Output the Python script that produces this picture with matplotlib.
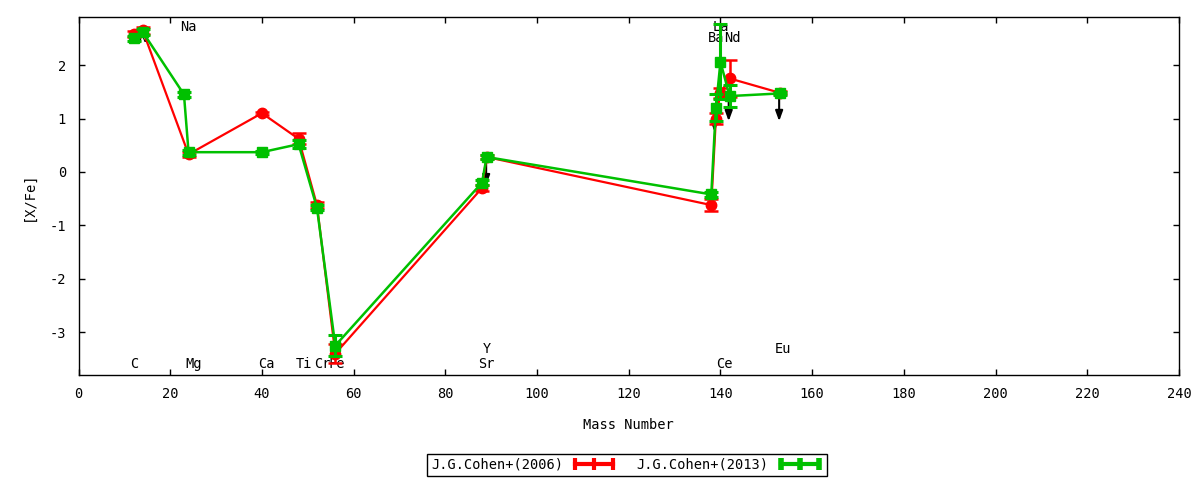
import matplotlib
matplotlib.use("Agg")
import matplotlib.pyplot as plt
from matplotlib.lines import Line2D

# ---- data ----
mass_2006 = [12, 14, 24, 40, 48, 52, 56, 88, 89, 138, 139, 140, 142, 153]
xfe_2006 = [2.58, 2.65, 0.33, 1.10, 0.62, -0.62, -3.40, -0.30, 0.28, -0.62, 1.00, 1.48, 1.75, 1.48]
err_2006 = [0.05, 0.07, 0.05, 0.03, 0.10, 0.05, 0.18, 0.05, 0.03, 0.12, 0.10, 0.10, 0.35, 0.03]

mass_2013 = [12, 14, 23, 24, 40, 48, 52, 56, 88, 89, 138, 139, 140, 142, 153]
xfe_2013 = [2.50, 2.62, 1.45, 0.37, 0.37, 0.52, -0.67, -3.25, -0.20, 0.28, -0.42, 1.20, 2.06, 1.42, 1.47]
err_2013 = [0.05, 0.05, 0.05, 0.05, 0.03, 0.08, 0.05, 0.20, 0.05, 0.03, 0.05, 0.25, 0.70, 0.20, 0.03]

# upper limits (arrows)
limit_mass = [88.9, 138.7, 141.8, 152.8]
limit_start = [0.28, 1.20, 1.42, 1.47]
limit_end = [-0.25, 0.75, 0.95, 0.95]

# element labels
label_names = ['C', 'N', 'Na', 'Mg', 'Ca', 'Ti', 'Cr', 'Fe', 'Sr', 'Y', 'Ba', 'La', 'Ce', 'Nd', 'Eu']
label_x = [12.2, 14.0, 24.0, 25.2, 40.9, 49.2, 53.1, 56.4, 88.9, 89.1, 139.0, 140.0, 140.8, 142.6, 153.7]
label_y = [-3.59, 2.50, 2.71, -3.59, -3.59, -3.59, -3.59, -3.59, -3.59, -3.31, 2.50, 2.71, -3.59, 2.50, -3.31]

xticks = list(range(0, 241, 20))
yticks = [-3, -2, -1, 0, 1, 2]

font = 'DejaVu Sans Mono'
fs = 9.8
plt.rcParams['font.family'] = [font]

fig = plt.figure(figsize=(12, 4.8), dpi=100)
ax = fig.add_axes([78.5 / 1200, 1 - 375 / 480, (1179 - 78.5) / 1200, (375 - 17) / 480])

for name, x, y in zip(label_names, label_x, label_y):
    ax.text(x, y, name, ha='center', va='center', fontsize=fs, zorder=1, color='black')

red = '#ff0000'
green = '#00c000'
ax.errorbar(mass_2006, xfe_2006, yerr=err_2006, color=red, lw=1.6, marker='o', ms=7.5,
            capsize=5, capthick=1.8, elinewidth=1.8, zorder=3)
ax.errorbar(mass_2013, xfe_2013, yerr=err_2013, color=green, lw=1.8, marker='s', ms=7,
            capsize=5, capthick=2.2, elinewidth=2.2, zorder=4)

for x, y0, y1 in zip(limit_mass, limit_start, limit_end):
    ax.annotate('', xy=(x, y1), xytext=(x, y0),
                arrowprops=dict(arrowstyle='-|>,head_length=0.6,head_width=0.22',
                                color='black', lw=1.5, shrinkA=0, shrinkB=0), zorder=2)

ax.set_xlim(0, 240)
ax.set_ylim(-3.8, 2.9)
ax.set_xticks(xticks)
ax.set_yticks(yticks)
ax.set_xticklabels([str(t) for t in xticks], fontsize=fs)
ax.set_yticklabels([str(t) for t in yticks], fontsize=fs)
ax.tick_params(direction='in', length=4, width=1, top=True, right=True, pad=9)
for s in ax.spines.values():
    s.set_linewidth(1)
ax.set_xlabel('Mass Number', fontsize=fs, labelpad=12)
ax.set_ylabel('[X/Fe]', fontsize=fs, labelpad=10)

h_red = Line2D([], [], color=red, lw=3, marker='|', ms=8, mew=3)
h_green = Line2D([], [], color=green, lw=3, marker='|', ms=8, mew=4)
leg = fig.legend([h_red, h_green], ['J.G.Cohen+(2006)', 'J.G.Cohen+(2013)'],
                 loc='center', bbox_to_anchor=(627 / 1200, 1 - 465 / 480), ncol=2,
                 markerfirst=False, fontsize=fs, frameon=True, fancybox=False,
                 edgecolor='black', framealpha=1, borderpad=0.3, handlelength=3.4,
                 numpoints=3, columnspacing=1.4, handletextpad=0.6, borderaxespad=0)
leg.get_frame().set_linewidth(1)

fig.savefig('out.png', dpi=100)
